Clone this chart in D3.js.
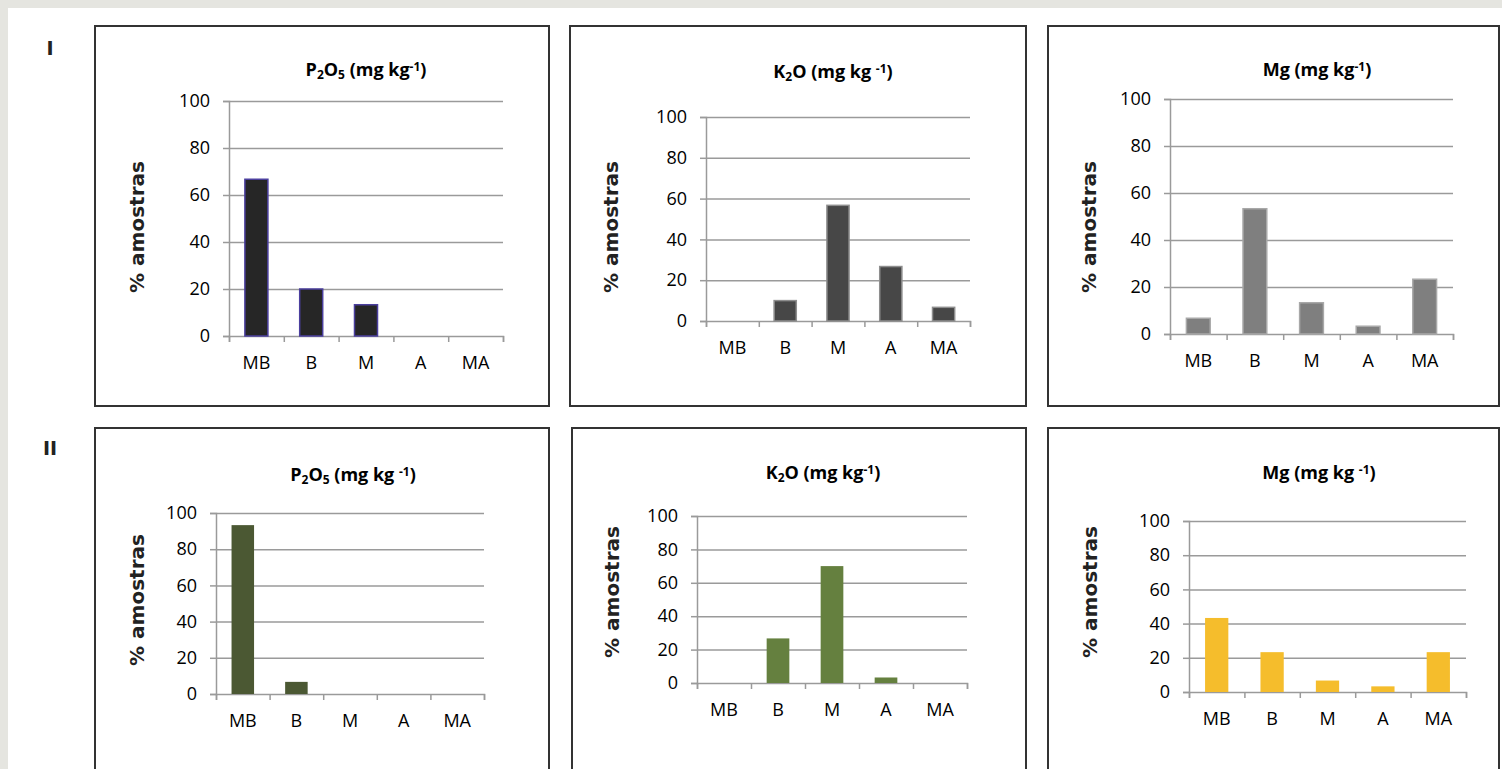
<!DOCTYPE html>
<html>
<head>
<meta charset="utf-8">
<script src="https://cdn.jsdelivr.net/npm/d3@7.9.0/dist/d3.min.js"></script>
<style>
  html, body { margin: 0; padding: 0; background: #e5e5e0; }
  svg { display: block; }
  .tick text { font-family: 'Open Sans', sans-serif; font-size: 18px; fill: #000; }
</style>
</head>
<body>
<svg id="chart" width="1502" height="769"></svg>
<script>
// categories (classes de fertilidade)
const classes = ['MB', 'B', 'M', 'A', 'MA'];
const yTicks = [0, 20, 40, 60, 80, 100];

// % de amostras por classe
const p2o5_I  = [66.7, 20, 13.3, 0, 0];
const k2o_I   = [0, 10, 56.7, 26.7, 6.7];
const mg_I    = [6.7, 53.3, 13.3, 3.3, 23.3];
const p2o5_II = [93.3, 6.7, 0, 0, 0];
const k2o_II  = [0, 26.7, 70, 3.3, 0];
const mg_II   = [43.3, 23.3, 6.7, 3.3, 23.3];

// title pieces
const titles = [
  { el: 'P', sub1: '2', el2: 'O', sub2: '5', unit: ' (mg kg', gap: false },
  { el: 'K', sub1: '2', el2: 'O', sub2: '',  unit: ' (mg kg', gap: true },
  { el: 'Mg', sub1: '', el2: '', sub2: '',   unit: ' (mg kg', gap: false },
  { el: 'P', sub1: '2', el2: 'O', sub2: '5', unit: ' (mg kg', gap: true },
  { el: 'K', sub1: '2', el2: 'O', sub2: '',  unit: ' (mg kg', gap: false },
  { el: 'Mg', sub1: '', el2: '', sub2: '',   unit: ' (mg kg', gap: true }
];

const panels = [
  { values: p2o5_I,  fill: '#262626', stroke: '#4b3f9e', box: [95, 26, 549, 406],   plot: [229, 503, 101, 336], title: [366, 70],  ylab: [137, 227] },
  { values: k2o_I,   fill: '#474747', stroke: '#8e8e8e', box: [570, 26, 1026, 406],  plot: [706, 970, 117, 321], title: [833, 72],  ylab: [611, 227] },
  { values: mg_I,    fill: '#7f7f7f', stroke: '#a8a8a8', box: [1048, 26, 1499, 406], plot: [1170, 1453, 99, 334], title: [1317, 70], ylab: [1089, 227] },
  { values: p2o5_II, fill: '#4b5833', stroke: 'none',    box: [95, 428, 549, 780],   plot: [216, 484, 513, 694], title: [353, 475], ylab: [137, 600] },
  { values: k2o_II,  fill: '#65803f', stroke: 'none',    box: [572, 428, 1026, 780], plot: [697, 967, 516, 683], title: [823, 473], ylab: [612, 592] },
  { values: mg_II,   fill: '#f5bd2c', stroke: 'none',    box: [1048, 428, 1499, 780], plot: [1189, 1466, 521, 692], title: [1319, 473], ylab: [1090, 592] }
];

const svg = d3.select('#chart');

// white page area
svg.append('rect').attr('x', 8).attr('y', 8).attr('width', 1502 - 8).attr('height', 769 - 8).attr('fill', '#fff');

// row labels
svg.append('text').attr('x', 50).attr('y', 55).attr('text-anchor', 'middle')
  .style('font-family', 'DejaVu Sans, sans-serif').style('font-weight', 'bold').style('font-size', '19px')
  .style('fill', '#222')
  .text('I');
svg.append('text').attr('x', 50).attr('y', 455).attr('text-anchor', 'middle')
  .style('font-family', 'DejaVu Sans, sans-serif').style('font-weight', 'bold').style('font-size', '19px')
  .style('fill', '#222')
  .text('II');

panels.forEach((p, i) => {
  const [bx0, by0, bx1, by1] = p.box;
  const [left, right, top, bottom] = p.plot;
  const g = svg.append('g');

  g.append('rect')
    .attr('x', bx0).attr('y', by0)
    .attr('width', bx1 - bx0).attr('height', by1 - by0)
    .attr('fill', '#fff').attr('stroke', '#333').attr('stroke-width', 2);

  const x = d3.scaleBand().domain(classes).range([left, right]).paddingInner(0.58).paddingOuter(0.29);
  const xEdge = d3.scaleLinear().domain([0, classes.length]).range([left, right]);
  const y = d3.scaleLinear().domain([0, 100]).range([bottom, top]);

  // gridlines
  g.append('g')
    .attr('transform', `translate(${left},0)`)
    .call(d3.axisLeft(y).tickValues(yTicks.slice(1)).tickFormat('').tickSize(-(right - left)))
    .call(s => s.select('.domain').remove())
    .call(s => s.selectAll('line').attr('stroke', '#9a9a9a').attr('stroke-width', 1.5));

  // y axis
  g.append('g')
    .attr('transform', `translate(${left},0)`)
    .call(d3.axisLeft(y).tickValues(yTicks).tickSize(6).tickPadding(13))
    .call(s => s.select('.domain').attr('stroke', '#9a9a9a').attr('stroke-width', 1.5))
    .call(s => s.selectAll('line').attr('stroke', '#9a9a9a').attr('stroke-width', 1.5));

  // x axis: boundary ticks
  g.append('g')
    .attr('transform', `translate(0,${bottom})`)
    .call(d3.axisBottom(xEdge).ticks(classes.length).tickFormat('').tickSize(6).tickSizeOuter(6))
    .call(s => s.select('.domain').attr('stroke', '#9a9a9a').attr('stroke-width', 1.5))
    .call(s => s.selectAll('line').attr('stroke', '#9a9a9a').attr('stroke-width', 1.5));

  // x axis: category labels
  g.append('g')
    .attr('transform', `translate(0,${bottom})`)
    .call(d3.axisBottom(x).tickSize(0).tickPadding(20))
    .call(s => s.select('.domain').remove());

  // bars
  g.append('g')
    .selectAll('rect')
    .data(classes.map((c, k) => ({ c, v: p.values[k] })).filter(d => d.v > 0))
    .join('rect')
    .attr('x', d => x(d.c))
    .attr('y', d => y(d.v))
    .attr('width', x.bandwidth())
    .attr('height', d => y(0) - y(d.v))
    .attr('fill', p.fill)
    .attr('stroke', p.stroke)
    .attr('stroke-width', p.stroke === 'none' ? 0 : 1.5);

  // title
  const t = titles[i];
  const tt = g.append('text')
    .attr('x', p.title[0]).attr('y', p.title[1] + 6)
    .attr('text-anchor', 'middle')
    .style('font-family', "'Open Sans', sans-serif")
    .style('font-weight', 'bold')
    .style('font-size', '18px');
  tt.append('tspan').text(t.el);
  if (t.sub1) tt.append('tspan').attr('baseline-shift', '-25%').style('font-size', '12px').text(t.sub1);
  if (t.el2) tt.append('tspan').text(t.el2);
  if (t.sub2) tt.append('tspan').attr('baseline-shift', '-25%').style('font-size', '12px').text(t.sub2);
  tt.append('tspan').text(t.unit + (t.gap ? ' ' : ''));
  tt.append('tspan').attr('baseline-shift', '40%').style('font-size', '12px').text('-1');
  tt.append('tspan').text(')');

  // y axis title
  g.append('text')
    .attr('transform', `translate(${p.ylab[0]},${p.ylab[1]}) rotate(-90)`)
    .attr('text-anchor', 'middle')
    .attr('dy', '0.35em')
    .style('font-family', "'DejaVu Sans', sans-serif")
    .style('font-weight', 'bold')
    .style('font-size', '20px')
    .style('fill', '#222')
    .text('% amostras');
});
</script>
</body>
</html>
